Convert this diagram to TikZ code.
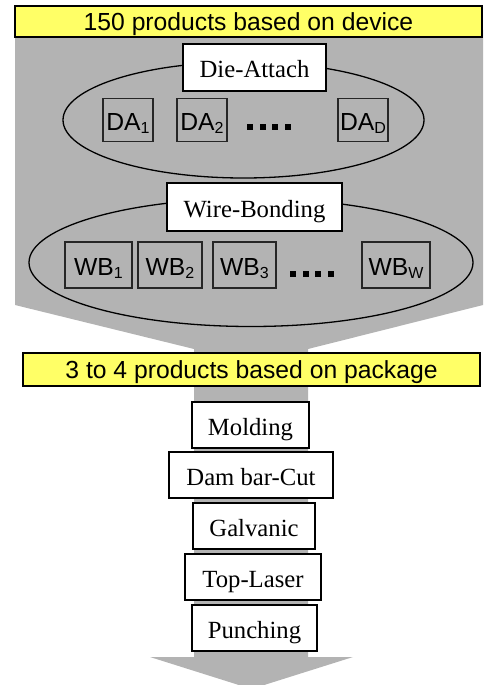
\documentclass[tikz,border=0pt]{standalone}
\usepackage{fontspec}
\setmainfont{Liberation Serif}
\newfontfamily\arialfont{Liberation Sans}
\usetikzlibrary{shapes.geometric}
\definecolor{funnelgray}{HTML}{B3B3B3}
\definecolor{bandyellow}{HTML}{FFFF66}
% lowered index in a smaller size
\newcommand{\lowidx}[1]{\raisebox{-3pt}{\fontsize{16}{16}\selectfont #1}}
\tikzset{
  band/.style={draw=black, line width=1.5pt, fill=bandyellow, inner sep=0pt,
    text height=18pt, text depth=0pt,
    font=\arialfont\fontsize{24.7}{29}\selectfont},
  procbox/.style={draw=black, line width=1.6pt, fill=white, inner sep=0pt,
    minimum height=46pt, text height=20pt, text depth=0pt,
    font=\fontsize{24.7}{29}\selectfont},
  unitbox/.style={draw=black!85, line width=1.2pt, inner sep=0pt,
    text height=21pt, text depth=0pt,
    font=\arialfont\fontsize{24.7}{29}\selectfont},
  group/.style={draw=black, line width=1.3pt, ellipse, inner sep=0pt},
  dot/.style={fill=black, minimum size=6pt, inner sep=0pt, rectangle}
}
\begin{document}
\begin{tikzpicture}[x=1pt,y=-1pt]
\useasboundingbox (0,0) rectangle (483,685);
\clip (0,0) rectangle (483,685);

% funnel-shaped gray flow arrow
\fill[funnelgray] (15,30) -- (483,30) -- (483,305) -- (308,349) -- (308,657)
  -- (353,657) -- (251.5,689) -- (150,657) -- (194,657) -- (194,349)
  -- (15,305) -- cycle;

% header bands
\node[band, minimum width=467pt, minimum height=31pt] (dev) at (248.5,21.5)
  {150 products based on device};
\node[band, minimum width=457pt, minimum height=33pt] (pkg) at (251.5,369.5)
  {3 to 4 products based on package};

% die-attach group
\node[group, minimum width=361pt, minimum height=116pt] (dagroup) at (243.5,120) {};
\node[procbox, minimum width=143pt, minimum height=47pt] (da) at (254.5,67.5) {Die-Attach};
\node[unitbox, minimum width=50pt, minimum height=43pt] (da1) at (128,120) {DA\lowidx{1}};
\node[unitbox, minimum width=50pt, minimum height=43pt] (da2) at (202,120) {DA\lowidx{2}};
\node[unitbox, minimum width=50pt, minimum height=43pt] (dad) at (363,120) {DA\lowidx{D}};
\node[dot] (dad1) at (250,127) {};
\node[dot] (dad2) at (262.7,127) {};
\node[dot] (dad3) at (275.3,127) {};
\node[dot] (dad4) at (288,127) {};

% wire-bonding group
\node[group, minimum width=444pt, minimum height=128pt] (wbgroup) at (251,262.5) {};
\node[procbox, minimum width=175pt, minimum height=48pt] (wb) at (254.5,207) {Wire-Bonding};
\node[unitbox, minimum width=67pt, minimum height=46pt] (wb1) at (98.5,265) {WB\lowidx{1}};
\node[unitbox, minimum width=64pt, minimum height=46pt] (wb2) at (170,265) {WB\lowidx{2}};
\node[unitbox, minimum width=63pt, minimum height=46pt] (wb3) at (244.5,265) {WB\lowidx{3}};
\node[unitbox, minimum width=68pt, minimum height=46pt] (wbw) at (396,265) {WB\lowidx{W}};
\node[dot] (wbd1) at (293,274) {};
\node[dot] (wbd2) at (305.5,274) {};
\node[dot] (wbd3) at (318,274) {};
\node[dot] (wbd4) at (330.5,274) {};

% package-level process steps
\node[procbox, minimum width=117pt] (mold) at (250.5,425) {Molding};
\node[procbox, minimum width=164pt] (dam) at (251,475) {Dam bar-Cut};
\node[procbox, minimum width=122pt] (galv) at (254,526) {Galvanic};
\node[procbox, minimum width=136pt] (laser) at (253,577) {Top-Laser};
\node[procbox, minimum width=125pt] (punch) at (254.5,628) {Punching};
\end{tikzpicture}
\end{document}
